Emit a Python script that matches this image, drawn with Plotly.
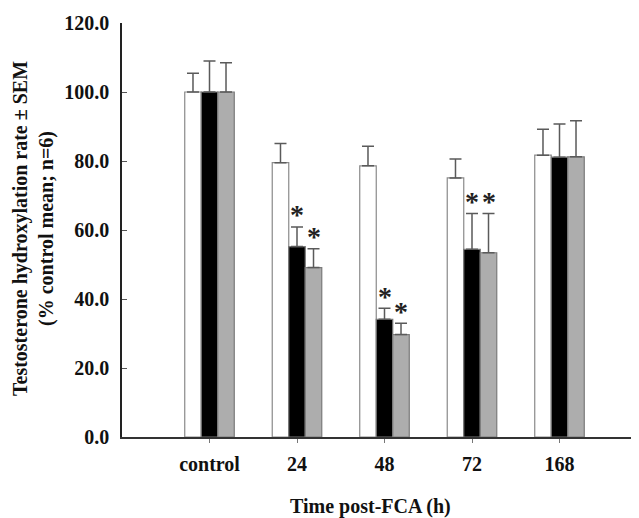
import plotly.graph_objects as go

categories = ["control", "24", "48", "72", "168"]
positions = [1, 2, 3, 4, 5]

series_names = ["Series A", "Series B", "Series C"]
mean_a = [100.0, 79.5, 78.6, 75.1, 81.7]
sem_a = [5.4, 5.6, 5.7, 5.5, 7.5]
mean_b = [100.0, 55.2, 34.1, 54.4, 81.1]
sem_b = [9.0, 5.7, 3.2, 10.4, 9.6]
mean_c = [100.0, 49.1, 29.7, 53.4, 81.2]
sem_c = [8.5, 5.5, 3.3, 11.4, 10.5]

# significance flags (asterisks) per series
sig_a = [False, False, False, False, False]
sig_b = [False, True, True, True, False]
sig_c = [False, True, True, True, False]

y_ticks = [0, 20, 40, 60, 80, 100, 120]
y_ticktext = ["0.0", "20.0", "40.0", "60.0", "80.0", "100.0", "120.0"]

fills = ["#ffffff", "#000000", "#adadad"]
outlines = ["#8a8a8a", "#7a7a7a", "#7a7a7a"]

FONT = "Liberation Serif"
bargap = 0.434
barw = (1 - bargap) / 3

# the page body has an 8px margin; lay the figure out in page pixels
OFF = 8
W, H = 639 - OFF, 518 - OFF
AX_L, AX_T, AX_B = 122, 23, 437        # page pixels of the plot area
L, T, B = AX_L - OFF, AX_T - OFF, 518 - AX_B
PW, PH = W - L, H - T - B

fig = go.Figure()
means = [mean_a, mean_b, mean_c]
sems = [sem_a, sem_b, sem_c]
sigs = [sig_a, sig_b, sig_c]
for i in range(3):
    fig.add_trace(go.Bar(
        x=positions, y=means[i], name=series_names[i],
        marker=dict(color=fills[i], line=dict(color=outlines[i], width=1.2)),
        error_y=dict(type="data", symmetric=False, array=sems[i],
                     arrayminus=[0] * len(sems[i]), color="#5a5a5a",
                     thickness=1.5, width=6),
    ))
    for j, p in enumerate(positions):
        if sigs[i][j]:
            fig.add_annotation(
                x=p + (i - 1) * barw, y=means[i][j] + sems[i][j],
                text="<b>*</b>", showarrow=False, yanchor="middle", yshift=12,
                font=dict(family=FONT, size=28, color="#222222"),
            )

fig.add_annotation(
    xref="paper", yref="paper", x=(370 - AX_L) / PW, y=-(506 - AX_B) / PH,
    text="<b>Time post-FCA (h)</b>", showarrow=False,
    xanchor="center", yanchor="middle",
    font=dict(family=FONT, size=20, color="#111111"),
)
fig.add_annotation(
    xref="paper", yref="paper", x=(33 - AX_L) / PW, y=(AX_B - 229) / PH,
    text="<b>Testosterone hydroxylation rate ± SEM<br>(% control mean; n=6)</b>",
    showarrow=False, textangle=-90, xanchor="center", yanchor="middle",
    font=dict(family=FONT, size=20, color="#111111"),
)

fig.update_layout(
    width=W, height=H,
    margin=dict(l=L, r=0, t=T, b=B, autoexpand=False),
    paper_bgcolor="white", plot_bgcolor="white",
    barmode="group", bargap=bargap, bargroupgap=0,
    showlegend=False,
    font=dict(family=FONT, size=20, color="#111111"),
)
fig.update_xaxes(
    range=[0, PW / 87.5], tickvals=positions,
    ticktext=["<b>%s</b>" % c for c in categories],
    showline=True, linecolor="#333333", linewidth=1.5,
    ticks="outside", ticklen=4, tickcolor="#777777", tickwidth=1,
    showgrid=False, zeroline=False, automargin=False, ticklabelstandoff=4,
    tickfont=dict(family=FONT, size=20, color="#111111"),
)
fig.update_yaxes(
    range=[0, 120], tickvals=y_ticks,
    ticktext=["<b>%s</b>" % t for t in y_ticktext],
    showline=True, linecolor="#222222", linewidth=1.5,
    ticks="inside", ticklen=5, tickcolor="#555555", tickwidth=1,
    showgrid=False, zeroline=False, automargin=False, ticklabelstandoff=7,
    tickfont=dict(family=FONT, size=20, color="#111111"),
)

fig.write_html("out.html")
